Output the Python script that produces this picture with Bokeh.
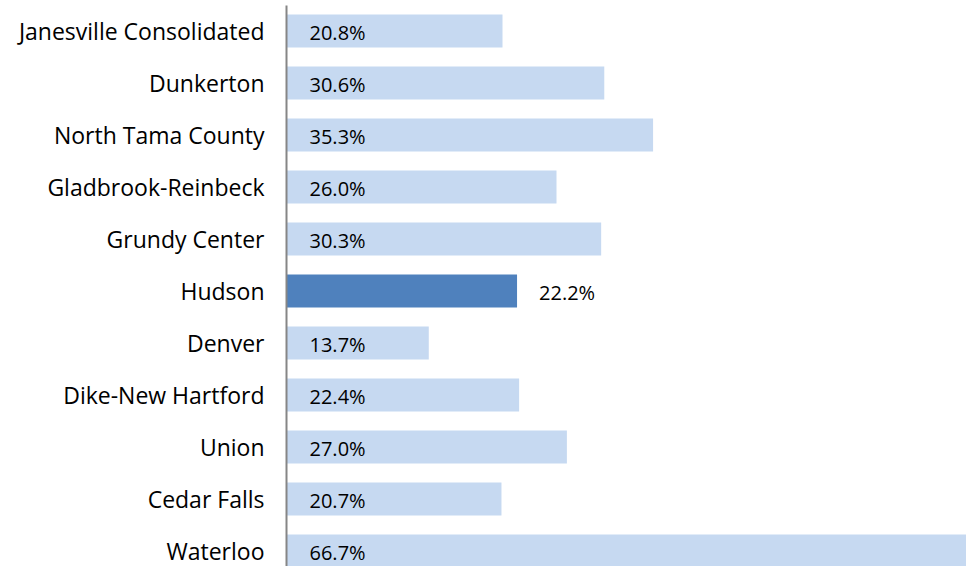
from bokeh.plotting import figure
from bokeh.models import ColumnDataSource, Range1d, FixedTicker
from bokeh.core.properties import value
from bokeh.embed import file_html
from bokeh.resources import INLINE

# ---- data ----
districts = ["Janesville Consolidated", "Dunkerton", "North Tama County",
             "Gladbrook-Reinbeck", "Grundy Center", "Hudson", "Denver",
             "Dike-New Hartford", "Union", "Cedar Falls", "Waterloo"]
percent = [20.8, 30.6, 35.3, 26.0, 30.3, 22.2, 13.7, 22.4, 27.0, 20.7, 66.7]
highlight = "Hudson"

# ---- styles ----
LIGHT = "#C6D9F1"
DARK = "#4F81BD"
FONT = "Open Sans"

pos = list(range(len(districts)))
colors = [DARK if d == highlight else LIGHT for d in districts]
label_x = [v if d == highlight else 0 for d, v in zip(districts, percent)]
label_off = [22 if d == highlight else 23 for d in districts]
labels = [f"{v:.1f}%" for v in percent]

src = ColumnDataSource(dict(y=pos, v=percent, c=colors, lx=label_x,
                            lo=label_off, t=labels))

p = figure(width=966, height=566, output_backend="svg", toolbar_location=None,
           x_range=Range1d(0, 65.48), y_range=Range1d(10.298, -0.4904),
           x_axis_location=None, min_border_left=286, min_border_right=0,
           min_border_top=5, min_border_bottom=0)
p.outline_line_color = None
p.grid.visible = False
p.background_fill_color = "white"
p.border_fill_color = "white"

p.hbar(y="y", left=0, right="v", height=0.635, fill_color="c",
       line_color=None, source=src)
p.text(x="lx", y="y", text="t", x_offset="lo", y_offset=1, source=src,
       text_font=value(FONT), text_font_size="20px", text_color="#000000",
       text_baseline="middle", text_align="left")

ax = p.yaxis[0]
ax.ticker = FixedTicker(ticks=pos)
ax.major_label_overrides = {i: d for i, d in zip(pos, districts)}
ax.major_tick_line_color = None
ax.minor_tick_line_color = None
ax.major_tick_out = 0
ax.major_tick_in = 0
ax.major_label_standoff = 22
ax.axis_line_color = "#868686"
ax.axis_line_width = 2
ax.major_label_text_font = FONT
ax.major_label_text_font_size = "23px"
ax.major_label_text_color = "#000000"

open("out.html", "w").write(file_html(p, INLINE))
